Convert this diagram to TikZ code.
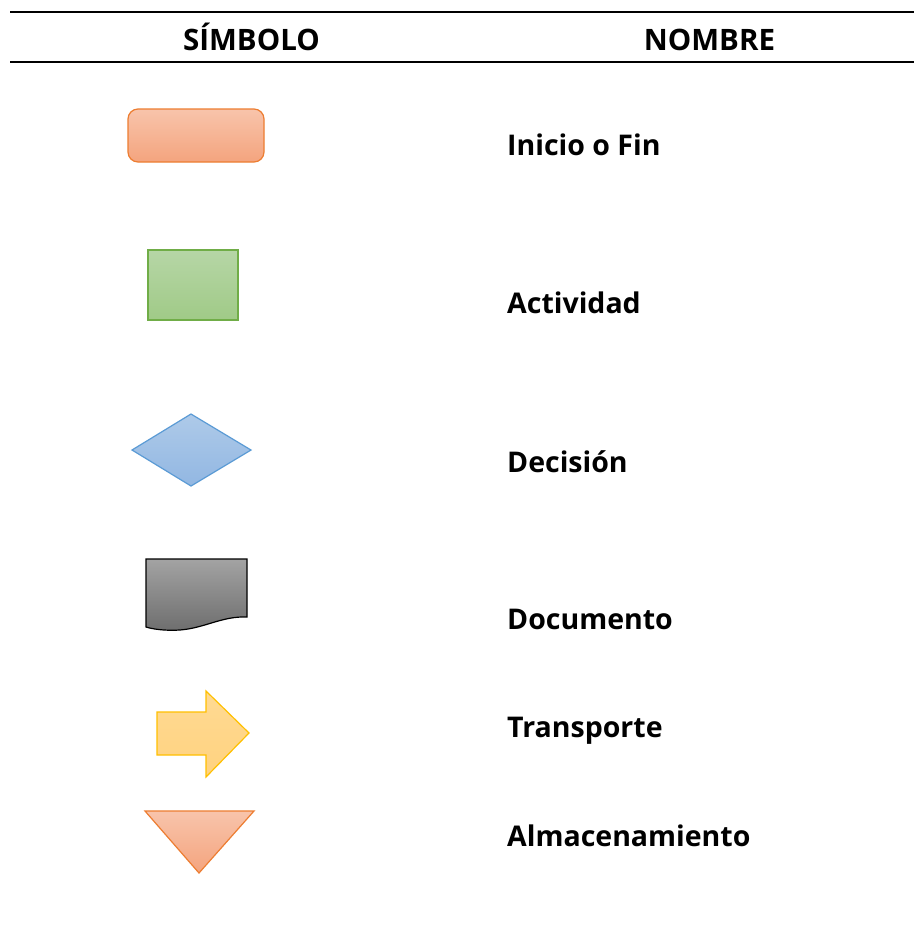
\documentclass[tikz,border=0pt]{standalone}
\usepackage{fontspec}
\setmainfont{Open Sans}
\usetikzlibrary{shapes.geometric}
\definecolor{orline}{HTML}{ED7D31}
\definecolor{ortop}{HTML}{F8C4AB}
\definecolor{orbot}{HTML}{F4A47E}
\definecolor{grline}{HTML}{70AD47}
\definecolor{grtop}{HTML}{B6D6A6}
\definecolor{grbot}{HTML}{A0CA87}
\definecolor{blline}{HTML}{5B9BD5}
\definecolor{bltop}{HTML}{AECAE9}
\definecolor{blbot}{HTML}{92B7E2}
\definecolor{gytop}{HTML}{A3A3A3}
\definecolor{gybot}{HTML}{6E6E6E}
\definecolor{yeline}{HTML}{FFC000}
\definecolor{yetop}{HTML}{FFDA93}
\definecolor{yebot}{HTML}{FFD27F}
\tikzset{
  lbl/.style={anchor=base west, inner sep=0pt, font=\fontsize{28.5}{34}\selectfont\bfseries},
  hdr/.style={anchor=base, inner sep=0pt, font=\fontsize{29.5}{35}\selectfont\bfseries},
  rule/.style={line width=2pt, black},
  orshape/.style={draw=orline, line width=1.2pt, top color=ortop, bottom color=orbot},
  grshape/.style={draw=grline, line width=1.2pt, top color=grtop, bottom color=grbot},
  blshape/.style={draw=blline, line width=1.2pt, top color=bltop, bottom color=blbot},
  gyshape/.style={draw=black, line width=1.2pt, top color=gytop, bottom color=gybot},
  yeshape/.style={draw=yeline, line width=1.2pt, top color=yetop, bottom color=yebot},
}
\begin{document}
\begin{tikzpicture}[x=1pt,y=-1pt]
\useasboundingbox (0,0) rectangle (914,935);
\fill[white] (0,0) rectangle (914,935);
% header rules
\coordinate (r1a) at (10,12); \coordinate (r1b) at (914,12);
\coordinate (r2a) at (10,62); \coordinate (r2b) at (914,62);
\draw[rule] (r1a) -- (r1b);
\draw[rule] (r2a) -- (r2b);
\node[hdr] (hsym) at (251.5,50) {SÍMBOLO};
\node[hdr] (hnom) at (709.5,50) {NOMBRE};
% shapes
\path[orshape, rounded corners=10pt] (128,109) rectangle (264,162);
\path[grshape] (148,250) rectangle (238,320);
\path[blshape] (132,450) -- (191,414) -- (251,450) -- (191,486) -- cycle;
\path[gyshape] (146,559) -- (247,559) -- (247,617)
  .. controls (222,616) and (205,628) .. (180,630)
  .. controls (165,631) and (152,629) .. (146,627) -- cycle;
\path[yeshape] (157,712) -- (206,712) -- (206,691) -- (249,733) -- (206,777) -- (206,755) -- (157,755) -- cycle;
\path[orshape] (145,811) -- (254,811) -- (199,873) -- cycle;
% labels
\node[lbl] (l1) at (507,155) {Inicio o Fin};
\node[lbl] (l2) at (507,313) {Actividad};
\node[lbl] (l3) at (507,472) {Decisión};
\node[lbl] (l4) at (507,629) {Documento};
\node[lbl] (l5) at (507,737) {Transporte};
\node[lbl] (l6) at (507,846) {Almacenamiento};
\end{tikzpicture}
\end{document}
